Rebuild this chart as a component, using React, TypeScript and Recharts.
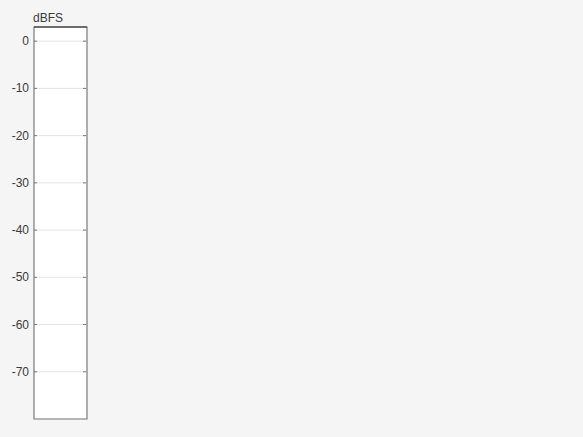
import { ComposedChart, Bar, XAxis, YAxis, CartesianGrid, ReferenceArea, ReferenceLine } from "recharts"

const channels = ["L"]
const levels: (number | null)[] = [null]
const yTicks = [0, -10, -20, -30, -40, -50, -60, -70]
const yDomain = [-80, 3]

const data = channels.map((name, i) => ({ name, level: levels[i] }))

const FONT = "'Liberation Sans', Arial, sans-serif"
const AXIS = "#7a7a7a"

function LeftTick(props: any) {
  const { x, y, payload } = props
  return (
    <g>
      <line x1={x + 4} x2={x + 7} y1={y} y2={y} stroke={AXIS} strokeWidth={1} />
      <text x={x - 1} y={y} dy={4} textAnchor="end" fontSize={12} fill="#3a3a3a" fontFamily={FONT}>
        {payload.value}
      </text>
    </g>
  )
}

function RightTick(props: any) {
  const { x, y } = props
  return <line x1={x - 1} x2={x - 4} y1={y} y2={y} stroke={AXIS} strokeWidth={1} />
}

export default function App() {
  return (
    <div style={{ position: "fixed", inset: 0, background: "#f5f5f5" }}>
      <div
        style={{
          position: "absolute",
          left: 33,
          top: 11,
          fontSize: 12,
          fontFamily: FONT,
          color: "#3a3a3a",
          lineHeight: "14px",
        }}
      >
        dBFS
      </div>
      <ComposedChart
        width={583}
        height={437}
        data={data}
        margin={{ top: 27, right: 495, bottom: 18, left: 0 }}
        style={{ position: "absolute", left: 0, top: 0 }}
      >
        <CartesianGrid yAxisId="left" vertical={false} stroke="#e4e4e4" fill="#ffffff" />
        <XAxis dataKey="name" hide />
        <YAxis
          yAxisId="left"
          width={34}
          domain={yDomain}
          ticks={yTicks}
          type="number"
          allowDataOverflow
          tickSize={0}
          tickMargin={4}
          tickLine={false}
          axisLine={false}
          tick={<LeftTick />}
        />
        <YAxis
          yAxisId="right"
          orientation="right"
          width={1}
          domain={yDomain}
          ticks={yTicks}
          type="number"
          allowDataOverflow
          tickSize={0}
          tickMargin={0}
          tickLine={false}
          axisLine={false}
          tick={<RightTick />}
        />
        <Bar yAxisId="left" dataKey="level" fill="#0072bd" isAnimationActive={false} />
        <ReferenceArea yAxisId="left" y1={yDomain[0]} y2={yDomain[1]} fill="none" stroke={AXIS} strokeWidth={1.2} ifOverflow="visible" />
        <ReferenceLine yAxisId="left" y={yDomain[1]} stroke="#262626" strokeWidth={1.2} ifOverflow="visible" />
      </ComposedChart>
    </div>
  )
}
